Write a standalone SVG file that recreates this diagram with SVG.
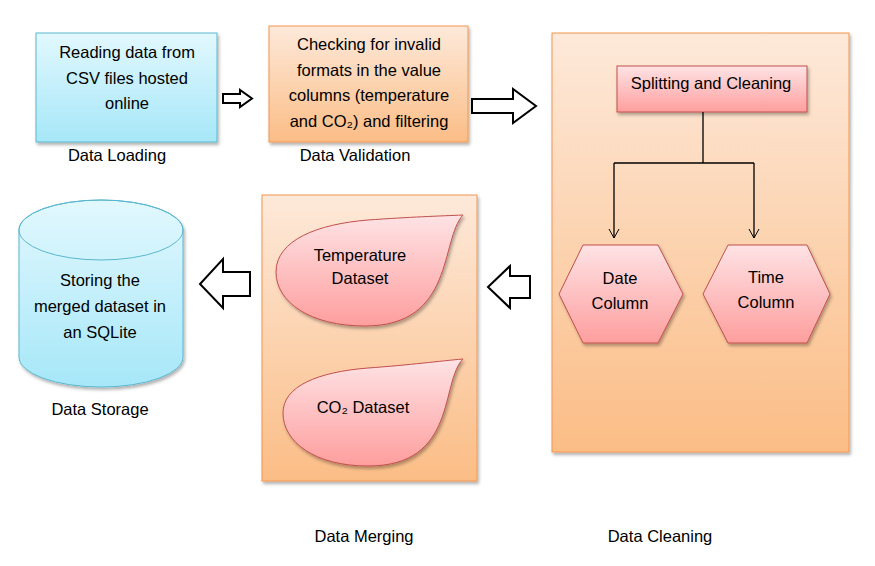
<svg xmlns="http://www.w3.org/2000/svg" width="875" height="566" viewBox="0 0 875 566">
<defs>
<linearGradient id="gBlue" x1="0" y1="0" x2="0" y2="1"><stop offset="0" stop-color="#e2f8fe"/><stop offset="1" stop-color="#a6e7f8"/></linearGradient>
<linearGradient id="gOrange" x1="0" y1="0" x2="0" y2="1"><stop offset="0" stop-color="#fde9da"/><stop offset="1" stop-color="#fbbd86"/></linearGradient>
<linearGradient id="gPink" x1="0" y1="0" x2="0" y2="1"><stop offset="0" stop-color="#fee3e5"/><stop offset="1" stop-color="#fe9e9e"/></linearGradient>
<filter id="sh" x="-10%" y="-10%" width="130%" height="130%"><feDropShadow dx="1.5" dy="2.5" stdDeviation="1.5" flood-color="#000" flood-opacity="0.3"/></filter>
<marker id="ah" markerWidth="12" markerHeight="12" refX="10" refY="6" orient="auto" markerUnits="userSpaceOnUse"><path d="M1,1 L10,6 L1,11" fill="none" stroke="#000" stroke-width="1"/></marker>
<style>
text{font-family:"Liberation Sans",Arial,sans-serif;font-size:16.5px;fill:#000;text-anchor:middle}
.blue{fill:url(#gBlue);stroke:#5bb7d0;stroke-width:1;filter:url(#sh)}
.orange{fill:url(#gOrange);stroke:#f29650;stroke-width:1;filter:url(#sh)}
.pink{fill:url(#gPink);stroke:#c0504d;stroke-width:1;filter:url(#sh)}
.blk{fill:#fff;stroke:#000;stroke-width:2}
.ln{fill:none;stroke:#000;stroke-width:1.3}
</style>
</defs>
<rect width="875" height="566" fill="#fff"/>

<g id="loading">
<rect class="blue" x="36" y="33" width="181" height="109"/>
<text x="127" y="58">Reading data from</text>
<text x="127" y="84">CSV files hosted</text>
<text x="127" y="109">online</text>
<text x="117" y="161">Data Loading</text>
</g>

<g id="validation">
<rect class="orange" x="269" y="26" width="199" height="116"/>
<text x="369" y="50">Checking for invalid</text>
<text x="369" y="76">formats in the value</text>
<text x="369" y="101">columns (temperature</text>
<text x="369" y="127">and CO₂) and filtering</text>
<text x="355" y="161">Data Validation</text>
</g>

<g id="cleaning">
<rect class="orange" x="552" y="33" width="297" height="419"/>
<g id="split">
<rect class="pink" x="617" y="66" width="190" height="46"/>
<text x="711" y="89">Splitting and Cleaning</text>
</g>
<g id="date">
<polygon class="pink" points="583,245 658,245 683,294 658,343 583,343 559,294"/>
<text x="620" y="284">Date</text>
<text x="620" y="309">Column</text>
</g>
<g id="time">
<polygon class="pink" points="728,245 807,245 830,294 807,343 728,343 703,294"/>
<text x="766" y="283">Time</text>
<text x="766" y="308">Column</text>
</g>
<text x="660" y="542">Data Cleaning</text>
</g>

<g id="merging">
<rect class="orange" x="262" y="195" width="215" height="286"/>
<g id="temp">
<path class="pink" d="M463,215 C440,240 455,326 365,326 C310,326 276,302 276,272 C276,240 318,224 368,220 C410,217 440,216 463,215 Z"/>
<text x="360" y="261">Temperature</text>
<text x="360" y="284">Dataset</text>
</g>
<g id="co2">
<path class="pink" d="M463,359 C440,382 458,466 368,466 C315,466 283,442 283,413 C283,386 318,372 368,368 C410,365 440,361 463,359 Z"/>
<text x="363" y="413">CO₂ Dataset</text>
</g>
<text x="364" y="542">Data Merging</text>
</g>

<g id="storage">
<path class="blue" d="M19,230 A82,30 0 0 1 183,230 L183,357 A82,30 0 0 1 19,357 Z"/>
<ellipse cx="101" cy="230" rx="82" ry="30" fill="none" stroke="#5bb7d0" stroke-width="1"/>
<text x="100" y="286">Storing the</text>
<text x="100" y="312">merged dataset in</text>
<text x="100" y="338">an SQLite</text>
<text x="100" y="415">Data Storage</text>
</g>

<g id="connectors">
<polygon class="blk" points="223,94 240,94 240,90 252,98.5 240,107 240,103 223,103"/>
<polygon class="blk" points="472,99 513,99 513,89 536,106 513,123 513,113 472,113"/>
<polygon class="blk" points="530,276 510,276 510,266 488,287 510,308 510,298 530,298"/>
<polygon class="blk" points="250,272 223,272 223,259 200,284 223,308 223,296 250,296"/>
<path class="ln" d="M703,112 V163 M614,163 H754"/>
<path class="ln" d="M614,163 V238" marker-end="url(#ah)"/>
<path class="ln" d="M754,163 V238" marker-end="url(#ah)"/>
</g>
</svg>
